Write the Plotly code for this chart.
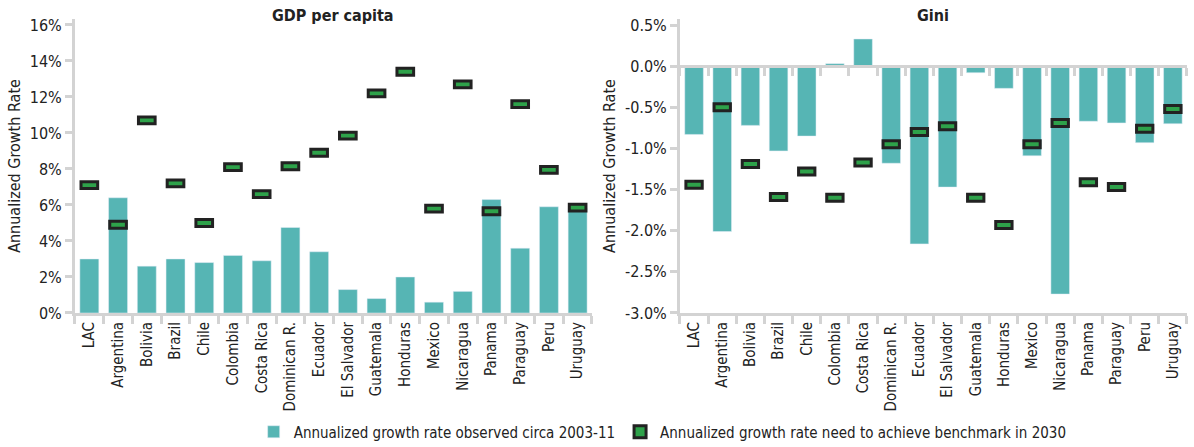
import plotly.graph_objects as go

countries = ["LAC", "Argentina", "Bolivia", "Brazil", "Chile", "Colombia", "Costa Rica",
             "Dominican R.", "Ecuador", "El Salvador", "Guatemala", "Honduras", "Mexico",
             "Nicaragua", "Panama", "Paraguay", "Peru", "Uruguay"]

gdp_observed = [3.0, 6.4, 2.6, 3.0, 2.8, 3.2, 2.9, 4.75, 3.4, 1.3, 0.8, 2.0, 0.6, 1.2, 6.3, 3.6, 5.9, 5.8]
gdp_needed = [7.1, 4.9, 10.7, 7.2, 5.0, 8.1, 6.6, 8.15, 8.9, 9.85, 12.2, 13.4, 5.8, 12.7, 5.65, 11.6, 7.95, 5.85]

gini_observed = [-0.83, -2.01, -0.72, -1.03, -0.85, 0.03, 0.33, -1.18, -2.16, -1.47, -0.08, -0.27,
                 -1.09, -2.77, -0.67, -0.69, -0.93, -0.70]
gini_needed = [-1.44, -0.50, -1.19, -1.59, -1.28, -1.60, -1.17, -0.95, -0.80, -0.73, -1.60, -1.93,
               -0.95, -0.69, -1.41, -1.47, -0.76, -0.52]

gdp_ticks = [0, 2, 4, 6, 8, 10, 12, 14, 16]
gini_ticks = [0.5, 0.0, -0.5, -1.0, -1.5, -2.0, -2.5, -3.0]

OBS_NAME = "Annualized growth rate observed circa 2003-11"
NEED_NAME = "Annualized growth rate need to achieve benchmark in 2030"

TEAL = "#56b5b4"
GREEN = "#2ea24a"
DARK = "#222222"
GRAY = "#d3d3d3"
FONT = "DejaVu Sans Condensed, Liberation Sans Narrow, sans-serif"

gdp_range = [0, 16.33]
gini_range = [-3.0, 0.573]
gdp_box = 0.38    # marker box height in data units (left)
gini_box = 0.085  # marker box height in data units (right)
BAR_W = 0.66
BOX_W = 0.58

fig = go.Figure()

# Left panel
fig.add_trace(go.Bar(x=countries, y=gdp_observed, name=OBS_NAME, marker_color=TEAL,
                     width=BAR_W, xaxis="x", yaxis="y", legendrank=1))
fig.add_trace(go.Bar(x=countries, y=[gdp_box] * len(countries),
                     base=[v - gdp_box / 2 for v in gdp_needed], name=NEED_NAME,
                     marker=dict(color=GREEN, line=dict(color=DARK, width=3)),
                     width=BOX_W, xaxis="x", yaxis="y", legendrank=2))

# Right panel (bars on bottom axis, markers on the overlaid zero-line axis so they draw on top)
fig.add_trace(go.Bar(x=countries, y=gini_observed, name=OBS_NAME, marker_color=TEAL,
                     width=BAR_W, xaxis="x2", yaxis="y2", showlegend=False))
fig.add_trace(go.Bar(x=countries, y=[gini_box] * len(countries),
                     base=[v - gini_box / 2 for v in gini_needed], name=NEED_NAME,
                     marker=dict(color=GREEN, line=dict(color=DARK, width=3)),
                     width=BOX_W, xaxis="x3", yaxis="y2", showlegend=False))

ydom = [0.2998, 0.9575]
zero_pos = ydom[0] + (0 - gini_range[0]) / (gini_range[1] - gini_range[0]) * (ydom[1] - ydom[0])

cat_axis = dict(type="category", categoryorder="array", categoryarray=countries,
                range=[-0.5, len(countries) - 0.5], showline=True, linecolor=GRAY, linewidth=3,
                ticks="outside", tickson="boundaries", ticklen=8, tickcolor=GRAY, tickwidth=2.5,
                showgrid=False, automargin=False)
cat_labels = dict(tickangle=-90, tickfont=dict(size=15, color="#222"))

val_axis = dict(showline=True, linecolor=GRAY, linewidth=3, ticks="outside", ticklen=7,
                tickcolor=GRAY, tickwidth=2.5, showgrid=False, zeroline=False,
                tickfont=dict(size=16), automargin=False,
                title=dict(text="Annualized Growth Rate", font=dict(size=16), standoff=6))

fig.update_layout(
    barmode="overlay",
    width=1194, height=447,
    margin=dict(l=0, r=0, t=0, b=0, autoexpand=False),
    paper_bgcolor="white", plot_bgcolor="white",
    font=dict(family=FONT, size=16, color="#222"),
    xaxis=dict(domain=[0.0628, 0.4958], anchor="y", **cat_axis, **cat_labels),
    yaxis=dict(domain=ydom, range=gdp_range, anchor="x", tickvals=gdp_ticks,
               ticktext=[f"{v}%" for v in gdp_ticks], **val_axis),
    xaxis2=dict(domain=[0.5695, 0.9941], anchor="y2", **cat_axis, **cat_labels),
    xaxis3=dict(overlaying="x2", anchor="free", position=zero_pos, side="bottom",
                showticklabels=False, **cat_axis),
    yaxis2=dict(domain=ydom, range=gini_range, anchor="x2", tickvals=gini_ticks,
                ticktext=[f"{v:.1f}%" for v in gini_ticks], **val_axis),
    legend=dict(orientation="h", x=0.555, xanchor="center", y=1 - 432 / 447, yanchor="middle",
                font=dict(size=15), traceorder="normal", bgcolor="rgba(0,0,0,0)"),
    annotations=[
        dict(text="<b>GDP per capita</b>", x=0.2793, y=1 - 16 / 447, xref="paper", yref="paper",
             showarrow=False, font=dict(size=16), xanchor="center", yanchor="middle"),
        dict(text="<b>Gini</b>", x=0.7818, y=1 - 16 / 447, xref="paper", yref="paper",
             showarrow=False, font=dict(size=16), xanchor="center", yanchor="middle"),
    ],
)

fig.write_html("out.html", config={"displayModeBar": False},
               post_script="document.body.style.margin='0';document.body.style.overflow='hidden';")
